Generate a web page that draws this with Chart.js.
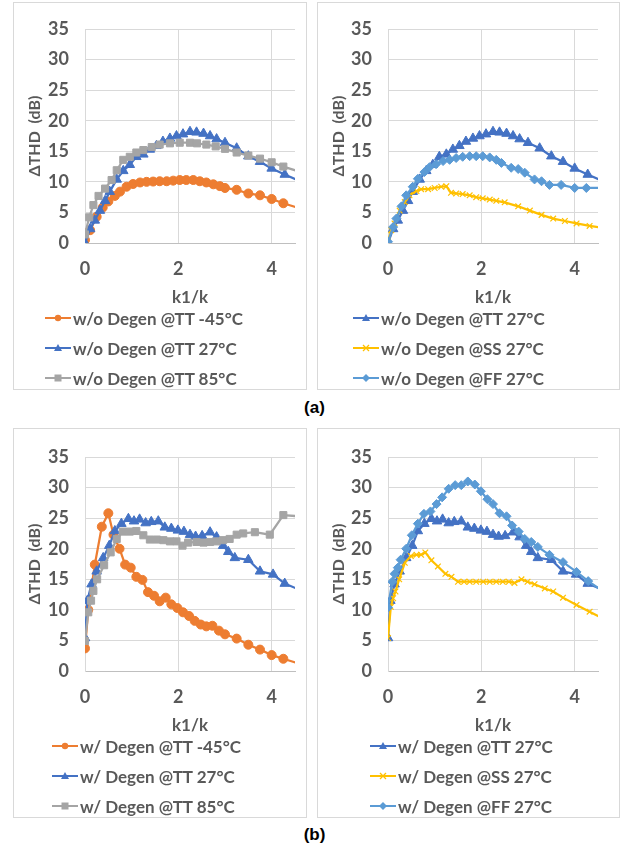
<!DOCTYPE html>
<html lang="en">
<head>
<meta charset="UTF-8">
<title>ΔTHD vs k1/k</title>
<script src="https://cdn.jsdelivr.net/npm/chart.js@4.4.0/dist/chart.umd.min.js"></script>
<style>
  body { margin: 0; background: #fff; width: 629px; height: 852px; position: relative; overflow: hidden;
         font-family: Lato, "Open Sans", sans-serif; }
  .panel { position: absolute; border: 1px solid #d9d9d9; box-sizing: border-box; }
  .panel canvas { position: absolute; left: -1px; top: -1px; }
  .legend { position: absolute; }
  .item { height: 30px; display: flex; align-items: center; font-weight: bold; font-size: 17px;
          color: #595959; white-space: nowrap; }
  .item svg { margin-right: 2px; }
  .cap { position: absolute; left: 0; width: 629px; text-align: center; color: #000;
         font: bold 17px "Liberation Sans", Arial, sans-serif; }
</style>
</head>
<body>
<div class="panel" id="pa1" style="left:13px;top:2px;width:294px;height:388px"><canvas id="ca1" width="294" height="310"></canvas><div class="legend" id="la1"></div></div>
<div class="panel" id="pa2" style="left:317px;top:2px;width:303px;height:388px"><canvas id="ca2" width="303" height="310"></canvas><div class="legend" id="la2"></div></div>
<div class="cap" style="top:398px">(a)</div>
<div class="panel" id="pb1" style="left:13px;top:428px;width:294px;height:390px"><canvas id="cb1" width="294" height="312"></canvas><div class="legend" id="lb1"></div></div>
<div class="panel" id="pb2" style="left:317px;top:428px;width:303px;height:390px"><canvas id="cb2" width="303" height="312"></canvas><div class="legend" id="lb2"></div></div>
<div class="cap" style="top:825px">(b)</div>

<script>
// axes
const xTicks = [0, 2, 4];
const xMax = 4.5;
const yMax = 35;
const yStep = 5;

// (a) w/o Degen
const aColdK   = [0, 0.11, 0.25, 0.38, 0.5, 0.64, 0.75, 0.89, 1.03, 1.18, 1.32, 1.46, 1.6, 1.75, 1.89, 2.03, 2.17, 2.32, 2.46, 2.6, 2.75, 2.89, 3.0, 3.25, 3.5, 3.75, 4.0, 4.25, 4.75];
const aColdThd = [0.5, 2.1, 4.3, 5.8, 6.8, 7.7, 8.4, 9.2, 9.65, 9.9, 10.0, 10.05, 10.1, 10.1, 10.2, 10.3, 10.3, 10.3, 10.1, 9.9, 9.6, 9.3, 9.0, 8.7, 8.1, 7.8, 7.2, 6.5, 5.3];
const aRoomK   = [0, 0.11, 0.21, 0.32, 0.43, 0.53, 0.68, 0.82, 0.96, 1.1, 1.25, 1.39, 1.53, 1.67, 1.82, 1.96, 2.1, 2.25, 2.39, 2.54, 2.68, 2.82, 3.0, 3.25, 3.5, 3.75, 4.0, 4.28, 4.75];
const aRoomThd = [0, 2.3, 3.7, 5.3, 6.9, 8.4, 10.4, 11.8, 12.8, 14.1, 14.5, 15.3, 15.9, 16.6, 17.1, 17.5, 17.8, 18.2, 18.1, 17.9, 17.5, 17.0, 16.4, 15.5, 14.2, 13.3, 12.2, 11.2, 9.6];
const aHotK    = [0, 0.09, 0.18, 0.29, 0.43, 0.57, 0.68, 0.82, 0.96, 1.1, 1.25, 1.43, 1.6, 1.82, 2.03, 2.25, 2.4, 2.6, 2.8, 3.0, 3.25, 3.5, 3.75, 4.0, 4.25, 4.75];
const aHotThd  = [1.4, 4.2, 6.2, 7.7, 8.9, 10.3, 11.9, 13.6, 14.1, 14.8, 15.2, 15.7, 16.1, 16.3, 16.4, 16.4, 16.3, 16.1, 15.8, 15.4, 14.8, 14.3, 13.8, 13.2, 12.5, 11.3];
const aSSK     = [0, 0.07, 0.14, 0.25, 0.36, 0.46, 0.61, 0.71, 0.86, 1.0, 1.14, 1.25, 1.35, 1.46, 1.6, 1.75, 1.89, 2.03, 2.18, 2.32, 2.5, 2.79, 3.04, 3.29, 3.54, 3.79, 4.04, 4.32, 4.75];
const aSSThd   = [0.2, 2.1, 3.2, 5.3, 6.7, 7.8, 8.5, 8.8, 8.8, 9.0, 9.2, 9.3, 8.2, 8.1, 8.0, 7.8, 7.5, 7.3, 7.1, 6.9, 6.65, 6.0, 5.3, 4.6, 4.0, 3.6, 3.2, 2.8, 2.3];
const aFFK     = [0, 0.11, 0.18, 0.29, 0.39, 0.53, 0.64, 0.78, 0.89, 1.03, 1.18, 1.32, 1.46, 1.6, 1.75, 1.89, 2.03, 2.18, 2.32, 2.43, 2.64, 2.79, 2.93, 3.14, 3.29, 3.46, 3.71, 4.0, 4.25, 4.75];
const aFFThd   = [0.2, 2.6, 4.0, 6.0, 7.8, 9.2, 10.5, 11.6, 12.4, 12.9, 13.4, 13.6, 13.9, 14.1, 14.2, 14.2, 14.2, 14.0, 13.6, 13.1, 12.3, 12.1, 11.5, 10.4, 10.1, 9.5, 9.5, 9.0, 9.0, 9.0];

// (b) w/ Degen
const bColdK   = [0, 0.07, 0.21, 0.36, 0.5, 0.61, 0.74, 0.86, 0.98, 1.1, 1.23, 1.35, 1.48, 1.6, 1.73, 1.85, 1.98, 2.1, 2.23, 2.35, 2.48, 2.6, 2.73, 2.87, 3.0, 3.25, 3.5, 3.75, 4.0, 4.25, 4.75];
const bColdThd = [3.7, 10.0, 17.4, 23.6, 25.8, 22.3, 20.0, 17.4, 16.9, 15.4, 14.9, 12.9, 12.3, 11.4, 12.0, 10.9, 10.3, 9.6, 9.0, 8.2, 7.6, 7.3, 7.4, 6.6, 6.0, 5.3, 4.3, 3.5, 2.6, 2.0, 0.8];
const bRoomK   = [0, 0.05, 0.14, 0.25, 0.39, 0.52, 0.64, 0.78, 0.93, 1.05, 1.17, 1.3, 1.42, 1.57, 1.71, 1.85, 1.99, 2.12, 2.25, 2.37, 2.51, 2.68, 2.82, 2.96, 3.07, 3.21, 3.5, 3.75, 4.03, 4.28, 4.75];
const bRoomThd = [5.4, 11.5, 14.2, 16.3, 18.5, 20.5, 22.9, 24.1, 24.9, 24.5, 24.8, 24.2, 24.4, 24.5, 23.5, 23.3, 23.0, 22.8, 22.3, 22.0, 22.1, 22.7, 21.9, 20.5, 19.5, 18.5, 18.2, 16.3, 15.8, 14.3, 12.8];
const bHotK    = [0, 0.07, 0.13, 0.18, 0.26, 0.41, 0.55, 0.68, 0.81, 0.96, 1.1, 1.25, 1.39, 1.54, 1.68, 1.82, 1.96, 2.09, 2.21, 2.39, 2.54, 2.68, 2.82, 2.96, 3.1, 3.25, 3.39, 3.64, 3.96, 4.25, 4.75];
const bHotThd  = [4.9, 9.6, 11.5, 13.1, 15.0, 17.3, 19.4, 21.6, 22.8, 22.8, 22.9, 22.2, 21.5, 21.5, 21.4, 21.2, 21.2, 20.5, 21.0, 21.1, 21.0, 21.1, 21.2, 21.4, 21.6, 22.3, 22.5, 22.7, 22.3, 25.5, 25.2];
const bSSK     = [0, 0.06, 0.11, 0.16, 0.24, 0.36, 0.49, 0.61, 0.71, 0.8, 0.93, 1.07, 1.23, 1.36, 1.5, 1.63, 1.75, 1.89, 2.04, 2.18, 2.32, 2.46, 2.59, 2.71, 2.86, 2.99, 3.14, 3.36, 3.54, 3.75, 4.04, 4.32, 4.75];
const bSSThd   = [5.4, 10.5, 11.9, 13.0, 15.0, 17.7, 18.8, 19.0, 19.0, 19.4, 18.1, 17.1, 15.9, 15.4, 14.6, 14.6, 14.6, 14.6, 14.6, 14.6, 14.6, 14.6, 14.6, 14.4, 15.0, 14.6, 14.2, 13.5, 13.0, 12.0, 10.8, 9.7, 8.0];
const bFFK     = [0, 0.09, 0.14, 0.21, 0.27, 0.39, 0.51, 0.64, 0.77, 0.91, 1.04, 1.16, 1.3, 1.44, 1.57, 1.71, 1.86, 1.99, 2.13, 2.25, 2.39, 2.54, 2.66, 2.8, 2.93, 3.07, 3.21, 3.46, 3.75, 4.04, 4.29, 4.75];
const bFFThd   = [10.4, 14.6, 15.9, 16.9, 18.2, 20.0, 22.2, 24.1, 25.7, 26.1, 27.3, 28.4, 29.8, 30.4, 30.4, 31.0, 30.5, 29.4, 28.1, 27.3, 25.8, 25.3, 23.8, 22.8, 21.6, 21.1, 20.3, 19.0, 17.8, 16.2, 14.7, 12.3];

const ORANGE = '#ed7d31', BLUE = '#4472c4', GREY = '#a5a5a5', YELLOW = '#ffc000', LBLUE = '#5b9bd5';
const TEXT = '#595959';

const marks = {
  circle:   { style: 'circle',   r: 4.5, bw: 1 },
  triangle: { style: 'triangle', r: 5.5, bw: 1 },
  rect:     { style: 'rect',     r: 5,   bw: 1 },
  crossRot: { style: 'crossRot', r: 4,   bw: 1.2 },
  rectRot:  { style: 'rectRot',  r: 4.5, bw: 1 }
};

function series(label, k, thd, color, mark) {
  return { label, k, thd, color, mark: marks[mark] };
}

// small svg for the legend key: line with marker in the middle
function keySvg(s) {
  const c = s.color;
  let m = '';
  if (s.mark.style === 'circle') m = `<circle cx="13" cy="6" r="3.2" fill="${c}"/>`;
  if (s.mark.style === 'triangle') m = `<polygon points="13,2 17,9 9,9" fill="${c}"/>`;
  if (s.mark.style === 'rect') m = `<rect x="9.5" y="2.5" width="7" height="7" fill="${c}"/>`;
  if (s.mark.style === 'crossRot') m = `<path d="M10,3 L16,9 M16,3 L10,9" stroke="${c}" stroke-width="1.3"/>`;
  if (s.mark.style === 'rectRot') m = `<polygon points="13,2 17,6 13,10 9,6" fill="${c}"/>`;
  return `<svg width="26" height="12"><line x1="0" y1="6" x2="26" y2="6" stroke="${c}" stroke-width="2"/>${m}</svg>`;
}

function panel(canvasId, legendId, list, geo) {
  const canvas = document.getElementById(canvasId);
  new Chart(canvas, {
    type: 'line',
    data: {
      datasets: list.map((s, i) => ({
        label: s.label,
        data: s.k.map((v, j) => ({ x: v, y: s.thd[j] })),
        borderColor: s.color,
        backgroundColor: s.color,
        pointBackgroundColor: s.color,
        pointBorderColor: s.color,
        pointStyle: s.mark.style,
        pointRadius: s.mark.r,
        pointBorderWidth: s.mark.bw,
        borderWidth: 2.25,
        tension: 0,
        order: list.length - i
      }))
    },
    options: {
      responsive: false,
      animation: false,
      layout: { padding: { left: 8, right: geo.padRight, top: geo.padTop, bottom: 0 } },
      plugins: { legend: { display: false }, tooltip: { enabled: false } },
      scales: {
        x: {
          type: 'linear', min: 0, max: xMax,
          afterBuildTicks: (sc) => { sc.ticks = xTicks.map(v => ({ value: v })); },
          afterFit: (sc) => { sc.height = 69; },
          grid: { color: '#d9d9d9', drawTicks: false },
          border: { color: '#bfbfbf' },
          ticks: { padding: 15, color: TEXT, font: { family: 'Lato', size: 18, weight: 'bold' } },
          title: { display: true, text: 'k1/k', color: TEXT, padding: { top: 4, bottom: 4 },
                   font: { family: 'Lato', size: 17, weight: 'bold' } }
        },
        y: {
          min: 0, max: yMax,
          afterFit: (sc) => { sc.width = geo.axisW; },
          grid: { color: '#d9d9d9', drawTicks: false },
          border: { color: '#d9d9d9' },
          ticks: { stepSize: yStep, padding: 16, color: TEXT, font: { family: 'Lato', size: 18, weight: 'bold' } },
          title: { display: true, text: 'ΔTHD  (dB)', color: TEXT,
                   font: { family: 'Lato', size: 16, weight: 'bold' } }
        }
      }
    }
  });

  const lg = document.getElementById(legendId);
  lg.style.left = geo.legLeft + 'px';
  lg.style.top = geo.legTop + 'px';
  lg.innerHTML = list.map(s => `<div class="item">${keySvg(s)}<span>${s.label}</span></div>`).join('');
}

panel('ca1', 'la1', [
  series('w/o Degen @TT -45°C', aColdK, aColdThd, ORANGE, 'circle'),
  series('w/o Degen @TT 27°C', aRoomK, aRoomThd, BLUE, 'triangle'),
  series('w/o Degen @TT 85°C', aHotK, aHotThd, GREY, 'rect')
], { axisW: 64, padRight: 12, padTop: 27, legLeft: 31, legTop: 300 });

panel('ca2', 'la2', [
  series('w/o Degen @TT 27°C', aRoomK, aRoomThd, BLUE, 'triangle'),
  series('w/o Degen @SS 27°C', aSSK, aSSThd, YELLOW, 'crossRot'),
  series('w/o Degen @FF 27°C', aFFK, aFFThd, LBLUE, 'rectRot')
], { axisW: 63, padRight: 22, padTop: 27, legLeft: 35, legTop: 300 });

panel('cb1', 'lb1', [
  series('w/ Degen @TT -45°C', bColdK, bColdThd, ORANGE, 'circle'),
  series('w/ Degen @TT 27°C', bRoomK, bRoomThd, BLUE, 'triangle'),
  series('w/ Degen @TT 85°C', bHotK, bHotThd, GREY, 'rect')
], { axisW: 64, padRight: 12, padTop: 29, legLeft: 38, legTop: 302 });

panel('cb2', 'lb2', [
  series('w/ Degen @TT 27°C', bRoomK, bRoomThd, BLUE, 'triangle'),
  series('w/ Degen @SS 27°C', bSSK, bSSThd, YELLOW, 'crossRot'),
  series('w/ Degen @FF 27°C', bFFK, bFFThd, LBLUE, 'rectRot')
], { axisW: 63, padRight: 22, padTop: 29, legLeft: 52, legTop: 302 });
</script>
</body>
</html>
